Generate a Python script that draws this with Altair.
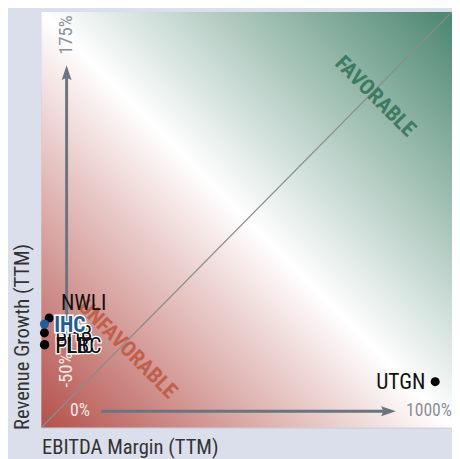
import altair as alt
import pandas as pd

# ---- data ----
tickers = ["NWLI", "BHB", "PLBC", "FLIC", "UTGN", "IHC"]
ebitda_margin = [-59, -73, -73, -72, 1090, -73]      # % (TTM)
revenue_growth = [-3, -13, -21, -21, -46, -7]        # % (TTM)
highlight = "IHC"

x_domain = [-82, 1140]
y_domain = [-77, 204]

x_ticks = ["0%", "1000%"]
x_tick_vals = [0, 1000]
y_ticks = ["-50%", "175%"]
y_tick_vals = [-50, 175]

FONT = "Liberation Sans Narrow, Roboto Condensed, DejaVu Sans Condensed, sans-serif"

pts = pd.DataFrame({"x": ebitda_margin, "y": revenue_growth, "t": tickers})
pts["hl"] = pts["t"] == highlight

xs = alt.Scale(domain=x_domain, nice=False, zero=False)
ys = alt.Scale(domain=y_domain, nice=False, zero=False)
xaxis = alt.Axis(domain=False, ticks=False, labels=False, grid=False,
                 title="EBITDA Margin (TTM)", titleX=0, titleY=26,
                 titleAlign="left", titleAnchor="start", titleBaseline="alphabetic",
                 titleFontSize=21, titleFont=FONT, titleFontWeight="normal",
                 titleColor="#333333")
yaxis = alt.Axis(domain=False, ticks=False, labels=False, grid=False,
                 title="Revenue Growth (TTM)", titleX=-13, titleY=425, titleAngle=270,
                 titleAlign="left", titleAnchor="start", titleBaseline="alphabetic",
                 titleFontSize=21, titleFont=FONT, titleFontWeight="normal",
                 titleColor="#333333")


def X(f="x"):
    return alt.X(f"{f}:Q", scale=xs, axis=xaxis)


def Y(f="y"):
    return alt.Y(f"{f}:Q", scale=ys, axis=yaxis)


# background gradient
bg_df = pd.DataFrame({"x": [x_domain[0]], "x2": [x_domain[1]],
                      "y": [y_domain[0]], "y2": [y_domain[1]]})
grad = alt.Gradient(
    gradient="linear",
    stops=[alt.GradientStop(color="#b4504a", offset=0),
           alt.GradientStop(color="#ffffff", offset=0.5),
           alt.GradientStop(color="#4a866f", offset=1)],
    x1=0, y1=1, x2=1, y2=0)
bg = alt.Chart(bg_df).mark_rect(color=grad).encode(
    x=X(), x2="x2:Q", y=Y(), y2="y2:Q")

diag = alt.Chart(bg_df).mark_rule(color="#8c8c8c", strokeWidth=1.2).encode(
    x=X(), x2="x2:Q", y=Y(), y2="y2:Q")

# decorative axis arrows (data coordinates)
arrow_col = "#6b7580"
yline_df = pd.DataFrame({"x": [-7], "y": [-25], "y2": [163]})
xline_df = pd.DataFrame({"x": [96], "x2": [951], "y": [-66]})
yline = alt.Chart(yline_df).mark_rule(color=arrow_col, strokeWidth=3).encode(
    x=X(), y=Y(), y2="y2:Q")
xline = alt.Chart(xline_df).mark_rule(color=arrow_col, strokeWidth=3).encode(
    x=X(), x2="x2:Q", y=Y())
yhead = alt.Chart(pd.DataFrame({"x": [-7], "y": [163]})).mark_point(
    shape="M0,-1L0.667,1L0,0.7L-0.667,1Z", size=225, filled=True,
    color=arrow_col, opacity=1).encode(x=X(), y=Y())
xhead = alt.Chart(pd.DataFrame({"x": [951], "y": [-66]})).mark_point(
    shape="M1,0L-1,-0.667L-0.7,0L-1,0.667Z", size=225, filled=True,
    color=arrow_col, opacity=1).encode(x=X(), y=Y())

# range labels
xt_df = pd.DataFrame({"x": x_tick_vals, "y": [-66, -66], "t": x_ticks,
                      "c": ["#f6e9e6", "#8c9099"]})
yt_df = pd.DataFrame({"x": [-7, -7], "y": y_tick_vals, "t": y_ticks,
                      "c": ["#f6e9e6", "#8c9099"]})
xt = alt.Chart(xt_df).mark_text(font=FONT, fontSize=18, align="left", baseline="middle",
                                dx=1).encode(
    x=X(), y=Y(), text="t:N", color=alt.Color("c:N", scale=None))
yt = alt.Chart(yt_df).mark_text(font=FONT, fontSize=19, align="left", baseline="middle",
                                angle=270).encode(
    x=X(), y=Y(), text="t:N", color=alt.Color("c:N", scale=None))

# zone labels
fav = alt.Chart(pd.DataFrame({"x": [912], "y": [147], "t": ["FAVORABLE"]})).mark_text(
    font=FONT, fontSize=22, fontWeight="bold", angle=45, color="#3e7c61",
    align="center", baseline="middle").encode(x=X(), y=Y(), text="t:N")
unfav = alt.Chart(pd.DataFrame({"x": [175], "y": [-24], "t": ["UNFAVORABLE"]})).mark_text(
    font=FONT, fontSize=22, fontWeight="bold", angle=45, color="#c0604c",
    align="center", baseline="middle").encode(x=X(), y=Y(), text="t:N")

# points
base = alt.Chart(pts)
dots = base.transform_filter("!datum.hl").mark_circle(size=85, color="#000000", opacity=1).encode(
    x=X(), y=Y())
dots_hl = base.transform_filter("datum.hl").mark_circle(size=85, color="#1f5c99", opacity=1).encode(
    x=X(), y=Y())

lab_right = base.transform_filter(
    "!datum.hl && datum.t != 'NWLI' && datum.t != 'UTGN'")
lab_r_halo = lab_right.mark_text(font=FONT, fontSize=22, align="left", baseline="middle",
                                 dx=11, dy=1, stroke="#ffffff", strokeWidth=2.5,
                                 color="#ffffff").encode(x=X(), y=Y(), text="t:N")
lab_r = lab_right.mark_text(font=FONT, fontSize=22, align="left", baseline="middle",
                            dx=11, dy=1, color="#111111").encode(x=X(), y=Y(), text="t:N")
lab_top = base.transform_filter("datum.t == 'NWLI'").mark_text(
    font=FONT, fontSize=22, align="left", baseline="middle", dx=12, dy=-15,
    color="#111111").encode(x=X(), y=Y(), text="t:N")
lab_left = base.transform_filter("datum.t == 'UTGN'").mark_text(
    font=FONT, fontSize=22, align="right", baseline="middle", dx=-10, dy=0,
    color="#111111").encode(x=X(), y=Y(), text="t:N")
lab_hl_halo = base.transform_filter("datum.hl").mark_text(
    font=FONT, fontSize=22, fontWeight="bold", align="left", baseline="middle",
    dx=10, dy=1, stroke="#ffffff", strokeWidth=3, color="#ffffff").encode(
    x=X(), y=Y(), text="t:N")
lab_hl = base.transform_filter("datum.hl").mark_text(
    font=FONT, fontSize=22, fontWeight="bold", align="left", baseline="middle",
    dx=10, dy=1, color="#1f5c99").encode(x=X(), y=Y(), text="t:N")

chart = alt.layer(
    bg, diag, yline, xline, yhead, xhead, xt, yt, fav, unfav,
    dots, lab_top, lab_left, lab_r_halo, lab_r, dots_hl, lab_hl_halo, lab_hl
).properties(
    width=418, height=423,
    autosize=alt.AutoSizeParams(type="none"),
    padding={"left": 34, "top": 0, "right": 0, "bottom": 28},
).configure(background="#dadfeb").configure_view(stroke="#c3c7d1", strokeWidth=1)

chart.save("out.html", embed_options={"renderer": "svg", "actions": False})
